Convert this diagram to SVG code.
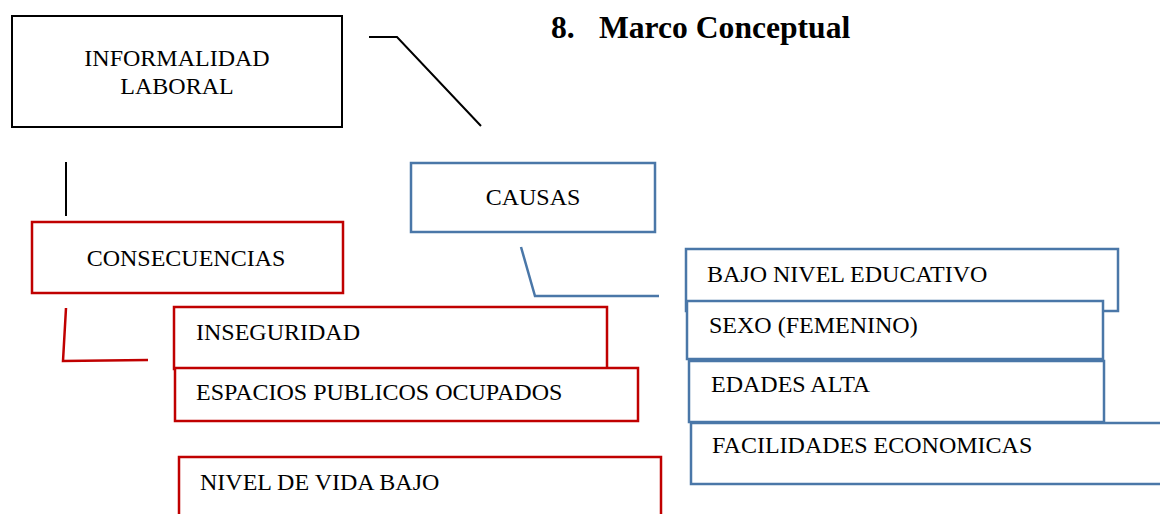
<svg xmlns="http://www.w3.org/2000/svg" width="1160" height="514" viewBox="0 0 1160 514">
<style>
text{font-family:"Liberation Serif","Times New Roman",serif;font-size:24px;fill:#000}
.title{font-size:31.6px;font-weight:bold}
.k{fill:#fff;stroke:#000;stroke-width:2}
.r{fill:#fff;stroke:#C00000;stroke-width:2.5}
.b{fill:#fff;stroke:#4A77A8;stroke-width:2.5}
.lk{fill:none;stroke:#000;stroke-width:2}
.lr{fill:none;stroke:#C00000;stroke-width:2.5}
.lb{fill:none;stroke:#4A77A8;stroke-width:2.5}
</style>
<rect width="1160" height="514" fill="#fff"/>
<text class="title" x="551" y="38">8.</text>
<text class="title" x="599" y="38">Marco Conceptual</text>
<g id="connectors">
<polyline class="lk" points="369,37 397,37 481,126"/>
<line class="lk" x1="66" y1="162" x2="66" y2="216"/>
<polyline class="lr" points="66,308 63,361 148,360"/>
<polyline class="lb" points="521,247 535,296 659,296"/>
</g>
<g id="informalidad">
<rect class="k" x="12" y="16" width="330" height="111"/>
<text x="177" y="66" text-anchor="middle">INFORMALIDAD</text>
<text x="177" y="94" text-anchor="middle">LABORAL</text>
</g>
<g id="consecuencias">
<rect class="r" x="32" y="222" width="311" height="71"/>
<text x="186" y="266" text-anchor="middle">CONSECUENCIAS</text>
</g>
<g id="causas">
<rect class="b" x="411" y="163" width="244" height="69"/>
<text x="533" y="205" text-anchor="middle">CAUSAS</text>
</g>
<g id="inseguridad">
<rect class="r" x="174" y="307" width="433" height="62"/>
<text x="196" y="340">INSEGURIDAD</text>
</g>
<g id="espacios">
<rect class="r" x="175" y="368" width="463" height="53"/>
<text x="196" y="400">ESPACIOS PUBLICOS OCUPADOS</text>
</g>
<g id="nivel-vida">
<rect class="r" x="179" y="457" width="482" height="70"/>
<text x="200" y="490">NIVEL DE VIDA BAJO</text>
</g>
<g id="bajo-nivel">
<rect class="b" x="686" y="249" width="432" height="62"/>
<text x="707" y="282">BAJO NIVEL EDUCATIVO</text>
</g>
<g id="sexo">
<rect class="b" x="687" y="301" width="416" height="58"/>
<text x="709" y="333">SEXO (FEMENINO)</text>
</g>
<g id="edades">
<rect class="b" x="689" y="361" width="415" height="61"/>
<text x="711" y="392">EDADES ALTA</text>
</g>
<g id="facilidades">
<rect class="b" x="691" y="423" width="480" height="61"/>
<text x="712" y="453">FACILIDADES ECONOMICAS</text>
</g>
</svg>
